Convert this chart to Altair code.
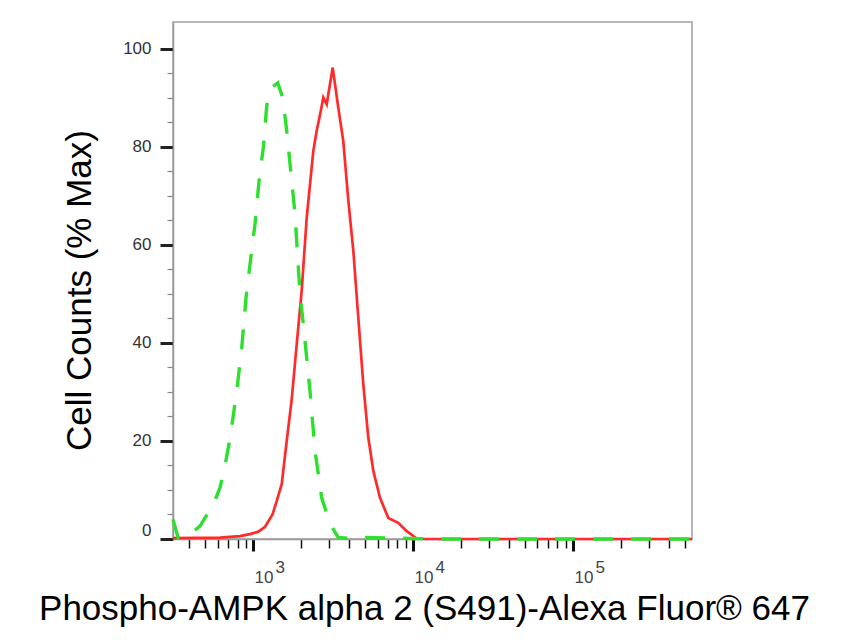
import altair as alt
import pandas as pd

FONT = "Liberation Sans, Arial, sans-serif"

# isotype control (green dashed) - fluorescence intensity vs % of max
control_x = [316, 340, 394, 467, 565, 622, 668, 718, 791, 850, 904, 958, 1029, 1095,
             1160, 1218, 1277, 1426, 1533, 1624, 1728, 1830, 1891, 1966, 2113, 2271,
             2441, 2687, 3029, 3413, 4000, 5000, 8000, 12000, 555000]
control_y = [4.0, 0.3, 0.6, 2.7, 7.1, 10.5, 15.0, 20.5, 30.2, 39.0, 49.2, 56.1, 64.3, 73.7,
             79.9, 88.4, 91.8, 93.1, 90.1, 83.3, 74.5, 66.3, 58.8, 50.3, 40.4, 30.2,
             18.0, 8.4, 3.1, 0.3, 0.1, 0.3, 0.2, 0.0, 0.0]

# stained sample (red solid)
stained_x = [316, 622, 829, 958, 1079, 1189, 1324, 1413, 1511, 1624, 1745, 1875, 2014,
             2166, 2382, 2500, 2650, 2750, 2888, 3148, 3413, 3666, 3944, 4237, 4550,
             4890, 5255, 5650, 6220, 7010, 8090, 9140, 10550, 12000, 555000]
stained_y = [0.2, 0.3, 0.6, 1.0, 1.5, 2.5, 5.0, 8.0, 11.2, 20.0, 28.5, 39.7, 50.6,
             65.6, 79.2, 83.3, 87.3, 90.1, 88.7, 96.2, 88.0, 81.2, 69.0, 58.8, 45.2,
             31.6, 20.7, 13.9, 8.4, 4.3, 3.3, 1.6, 0.1, 0.0, 0.0]

x_major = [1000, 10000, 100000]
x_minor = [400, 500, 600, 700, 800, 900,
           2000, 3000, 4000, 5000, 6000, 7000, 8000, 9000,
           20000, 30000, 40000, 50000, 60000, 70000, 80000, 90000,
           200000, 300000, 400000, 500000]
y_ticks = list(range(0, 101, 5))

x_title = "Phospho-AMPK alpha 2 (S491)-Alexa Fluor® 647"
y_title = "Cell Counts (% Max)"

control = pd.DataFrame({"intensity": control_x, "pct": control_y})
stained = pd.DataFrame({"intensity": stained_x, "pct": stained_y})

is_major = "indexof([" + ",".join(str(v) for v in x_major) + "], datum.value) >= 0"
x_scale = alt.Scale(type="log", domain=[316, 555000], nice=False)
y_scale = alt.Scale(domain=[0, 105.5], nice=False, zero=False)

x_axis = alt.Axis(
    values=x_major + x_minor,
    labelExpr=is_major + " ? '10' : ''",
    tickSize={"condition": {"test": is_major, "value": 12}, "value": 9},
    tickWidth={"condition": {"test": is_major, "value": 3}, "value": 1.5},
    tickColor="#111",
    domainColor="#999", domainWidth=1.5,
    labelFont=FONT, labelFontSize=17, labelColor="#444",
    labelAlign="left", labelOffset=1, labelBaseline="alphabetic", labelPadding=31,
    labelOverlap=False, grid=False,
    title=x_title, titleFont=FONT, titleFontSize=35, titleFontWeight="normal",
    titleColor="black", titleX=251, titleY=80, titleBaseline="alphabetic",
    titleAlign="center",
)

exp_axis = alt.Axis(
    orient="bottom", values=x_major, ticks=False, tickSize=0, domain=False,
    labelExpr="'' + round(log(datum.value) / LN10)",
    labelFont=FONT, labelFontSize=17, labelColor="#444",
    labelAlign="left", labelOffset=22, labelBaseline="alphabetic", labelPadding=33,
    labelOverlap=False, grid=False, title=None,
)

y_major = "datum.value % 20 == 0"
y_axis = alt.Axis(
    values=y_ticks,
    labelExpr=y_major + " ? datum.label : ''",
    tickSize={"condition": {"test": y_major, "value": 13}, "value": 6},
    tickWidth={"condition": {"test": y_major, "value": 3}, "value": 1.2},
    tickColor={"condition": {"test": y_major, "value": "#222"}, "value": "#888"},
    domainColor="#999", domainWidth=1.5,
    labelFont=FONT, labelFontSize=17, labelColor="#333", labelPadding=9,
    labelFlush=True, labelOverlap=False, grid=False,
    title=y_title, titleFont=FONT, titleFontSize=35, titleFontWeight="normal",
    titleColor="black", titleX=-83, titleY=268, titleAlign="center",
    titleBaseline="alphabetic", titleAngle=270,
)

red = alt.Chart(stained).mark_line(color="#ff2b2b", strokeWidth=2.7).encode(
    x=alt.X("intensity:Q", scale=x_scale, axis=x_axis),
    y=alt.Y("pct:Q", scale=y_scale, axis=y_axis),
)

green = alt.Chart(control).mark_line(
    color="#2ee02e", strokeWidth=3.4, strokeDash=[20, 18]
).encode(
    x=alt.X("intensity:Q", scale=x_scale, axis=exp_axis),
    y=alt.Y("pct:Q", scale=y_scale, axis=y_axis),
)

chart = alt.layer(red, green).resolve_axis(x="independent").properties(
    width=519, height=517, autosize="none",
    padding={"left": 165, "top": 14, "right": 152, "bottom": 95},
).configure_view(stroke="#a0a0a0", strokeWidth=1.5)

chart.save("out.html", embed_options={"renderer": "svg", "actions": False})
